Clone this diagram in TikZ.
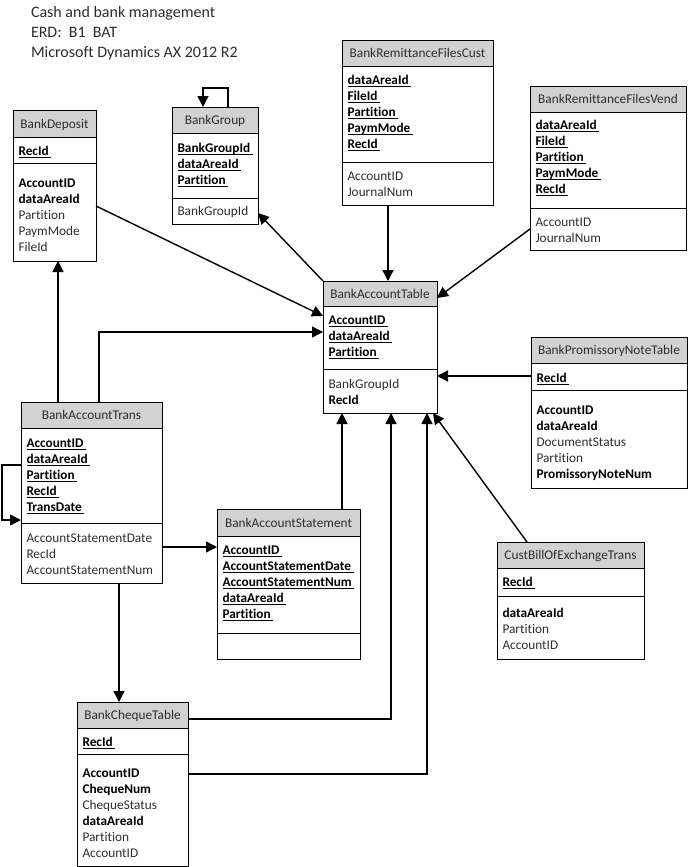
\documentclass[tikz,border=0pt]{standalone}
\usepackage{fontspec}
\setmainfont{Carlito}[Ligatures=NoCommon]
\usetikzlibrary{arrows.meta}
\definecolor{hdr}{RGB}{210,210,210}
\definecolor{txt}{RGB}{45,45,45}
\newsavebox\kbox
\newcommand\kf[1]{\hbox{\rule[-3.5pt]{0pt}{16pt}\color{black}\sbox\kbox{\bfseries #1\kern2.5pt}\rlap{\rule[-2.4pt]{\wd\kbox}{0.9pt}}\usebox\kbox}}
\newcommand\bff[1]{\hbox{\rule[-3.5pt]{0pt}{16pt}\color{black}\bfseries #1}}
\newcommand\nf[1]{\hbox{\rule[-3.5pt]{0pt}{16pt}#1}}
\tikzset{
  ebox/.style={draw, line width=0.9pt, inner sep=0pt, outer sep=0pt, anchor=north west},
  hd/.style={anchor=base, inner sep=0pt, font=\fontsize{13.3}{16}\selectfont, text=txt},
  fld/.style={anchor=north west, inner sep=0pt, outer sep=0pt, font=\fontsize{13.3}{16}\selectfont, text=txt},
  conn/.style={line width=1.4pt, -{Triangle[length=11pt,width=11pt]}},
}
\newcommand\entity[8]{%
  \fill[hdr] (#2,#3) rectangle (#4,#5);
  \node[ebox, minimum width={(#4-#2)*1pt}, minimum height={(#7-#3)*1pt}] (#1) at (#2,#3) {};
  \draw[line width=0.9pt] (#2,#5) -- (#4,#5) (#2,#6) -- (#4,#6);
  \node[hd] (#1-h) at ({(#2+#4)/2},{(#3+#5)/2+4.6}) {#8};
}
\newcommand\fields[4]{%
  \node[fld] (#1) at (#2+5.5,#3-7.9) {\vtop{\baselineskip=15.9pt\lineskip=0pt\lineskiplimit=-20pt #4}};
}
\begin{document}
\begin{tikzpicture}[x=1pt,y=-1pt]
\useasboundingbox (0,0) rectangle (688,867);
% title
\node[anchor=north west, inner sep=0pt, outer sep=0pt, font=\fontsize{16}{20}\selectfont, text=txt] (title) at (31,2.5)
  {\vtop{\baselineskip=20pt\lineskiplimit=-20pt
   \hbox{\rule[-5pt]{0pt}{20pt}Cash and bank management}
   \hbox{\rule[-5pt]{0pt}{20pt}ERD:\ \ B1\ \ BAT}
   \hbox{\rule[-5pt]{0pt}{20pt}Microsoft Dynamics AX 2012 R2}}};

% entities
\entity{bd}{13}{110}{96}{137}{163}{261}{BankDeposit}
\fields{bd-k}{13}{151}{\kf{RecId}}
\fields{bd-f}{13}{183}{\bff{AccountID}\bff{dataAreaId}\nf{Partition}\nf{PaymMode}\nf{FileId}}

\entity{bg}{172}{107}{258}{133}{198}{224}{BankGroup}
\fields{bg-k}{172}{148}{\kf{BankGroupId}\kf{dataAreaId}\kf{Partition}}
\fields{bg-f}{172}{211}{\nf{BankGroupId}}

\entity{rc}{342}{40}{493}{66}{162}{205}{BankRemittanceFilesCust}
\fields{rc-k}{342}{80}{\kf{dataAreaId}\kf{FileId}\kf{Partition}\kf{PaymMode}\kf{RecId}}
\fields{rc-f}{342}{176}{\nf{AccountID}\nf{JournalNum}}

\entity{rv}{530}{86}{686}{112}{208}{250}{BankRemittanceFilesVend}
\fields{rv-k}{530}{125}{\kf{dataAreaId}\kf{FileId}\kf{Partition}\kf{PaymMode}\kf{RecId}}
\fields{rv-f}{530}{222}{\nf{AccountID}\nf{JournalNum}}

\entity{bat}{323}{281}{437}{306}{369}{413}{BankAccountTable}
\fields{bat-k}{323}{320}{\kf{AccountID}\kf{dataAreaId}\kf{Partition}}
\fields{bat-f}{323}{384}{\nf{BankGroupId}\bff{RecId}}

\entity{pn}{531}{337}{687}{363}{390}{488}{BankPromissoryNoteTable}
\fields{pn-k}{531}{378}{\kf{RecId}}
\fields{pn-f}{531}{410}{\bff{AccountID}\bff{dataAreaId}\nf{DocumentStatus}\nf{Partition}\bff{PromissoryNoteNum}}

\entity{tr}{21}{402}{162}{428}{523}{583}{BankAccountTrans}
\fields{tr-k}{21}{443}{\kf{AccountID}\kf{dataAreaId}\kf{Partition}\kf{RecId}\kf{TransDate}}
\fields{tr-f}{21}{538}{\nf{AccountStatementDate}\nf{RecId}\nf{AccountStatementNum}}

\entity{st}{217}{509}{360}{536}{633}{659}{BankAccountStatement}
\fields{st-k}{217}{550}{\kf{AccountID}\kf{AccountStatementDate}\kf{AccountStatementNum}\kf{dataAreaId}\kf{Partition}}

\entity{cb}{497}{542}{644}{568}{596}{659}{CustBillOfExchangeTrans}
\fields{cb-k}{497}{582}{\kf{RecId}}
\fields{cb-f}{497}{613}{\bff{dataAreaId}\nf{Partition}\nf{AccountID}}

\entity{ch}{77}{702}{188}{728}{754}{866}{BankChequeTable}
\fields{ch-k}{77}{742}{\kf{RecId}}
\fields{ch-f}{77}{773}{\bff{AccountID}\bff{ChequeNum}\nf{ChequeStatus}\bff{dataAreaId}\nf{Partition}\nf{AccountID}}

% connectors
\draw[conn] (bg.north -| 228,0) -- (228,88) -| (bg.north -| 203,0);
\draw[conn] (bat.north west) -- (bg.east |- 0,213);
\draw[conn] (bd.east |- 0,206) -- (bat.west |- 0,316);
\draw[conn] (tr.north -| 99,0) |- (bat.west |- 0,332);
\draw[conn] (tr.north -| 58,0) -- (bd.south -| 58,0);
\draw[conn] (rc.south -| 388,0) -- (bat.north -| 388,0);
\draw[conn] (rv.west |- 0,229) -- (bat.east |- 0,298);
\draw[conn] (pn.west |- 0,376) -- (bat.east |- 0,376);
\draw[conn] (st.north -| 342,0) -- (bat.south -| 342,0);
\draw[conn] (ch.east |- 0,719) -| (bat.south -| 391,0);
\draw[conn] (ch.east |- 0,774) -| (bat.south -| 427,0);
\draw[conn] (cb.north -| 527,0) -- (bat.south -| 433,0);
\draw[conn] (tr.west |- 0,465) -| (2,520) -- (tr.west |- 0,520);
\draw[conn] (tr.east |- 0,547) -- (st.west |- 0,547);
\draw[conn] (tr.south -| 119,0) -- (ch.north -| 119,0);
\end{tikzpicture}
\end{document}
